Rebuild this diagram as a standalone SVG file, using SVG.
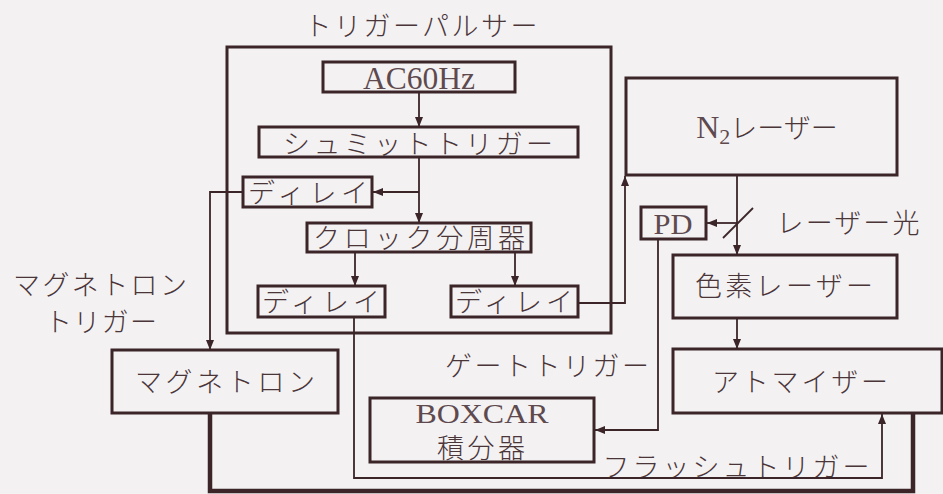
<svg xmlns="http://www.w3.org/2000/svg" width="943" height="494" viewBox="0 0 943 494">
<defs>
<style>
.bg{fill:#f3f1f2}
.box{fill:none;stroke:#3b2529;stroke-width:3}
.ln{fill:none;stroke:#3b2529;stroke-width:1.8}
.thick{fill:none;stroke:#3b2529;stroke-width:4.5}
text{font-family:"Liberation Serif","Noto Sans CJK JP",serif;font-weight:300;fill:#4a3539;text-anchor:middle}
.jp{font-size:27px}
.lat{font-family:"Liberation Serif",serif;font-weight:400;fill:#5e4a4e}
</style>
<marker id="ah" viewBox="0 0 10 8" refX="10" refY="4" markerWidth="10" markerHeight="8" markerUnits="userSpaceOnUse" orient="auto">
<path d="M0,0 L10,4 L0,8 z" fill="#3b2529"/>
</marker>
</defs>
<rect class="bg" x="0" y="0" width="943" height="494"/>

<g id="pulser">
<rect class="box" x="227" y="47" width="384" height="286"/>
<text class="jp" x="421" y="36" textLength="233" lengthAdjust="spacing">トリガーパルサー</text>
</g>
<g id="ac60">
<rect class="box" x="323" y="62" width="192" height="30"/>
<text class="lat" x="419" y="89" font-size="32px" textLength="112" lengthAdjust="spacingAndGlyphs">AC60Hz</text>
</g>
<g id="schmitt">
<rect class="box" x="259" y="127" width="319" height="30"/>
<text class="jp" x="418" y="154" textLength="270" lengthAdjust="spacing">シュミットトリガー</text>
</g>
<g id="delay1">
<rect class="box" x="243" y="177" width="129" height="30"/>
<text class="jp" x="308" y="203" textLength="120" lengthAdjust="spacing">ディレイ</text>
</g>
<g id="clock">
<rect class="box" x="307" y="223" width="224" height="29"/>
<text class="jp" x="419" y="248" textLength="212" lengthAdjust="spacing">クロック分周器</text>
</g>
<g id="delay2">
<rect class="box" x="258" y="286" width="127" height="31"/>
<text class="jp" x="321" y="312" textLength="118" lengthAdjust="spacing">ディレイ</text>
</g>
<g id="delay3">
<rect class="box" x="451" y="286" width="127" height="31"/>
<text class="jp" x="514" y="312" textLength="118" lengthAdjust="spacing">ディレイ</text>
</g>
<g id="n2laser">
<rect class="box" x="626" y="78" width="271" height="97"/>
<text x="767" y="138" class="jp"><tspan class="lat" font-size="32px">N</tspan><tspan class="lat" font-size="22px" dy="6">2</tspan><tspan dy="-6" font-size="27px">レーザー</tspan></text>
</g>
<g id="pd">
<rect class="box" x="641" y="207" width="65" height="32"/>
<text class="lat" x="673" y="234" font-size="30px" textLength="39" lengthAdjust="spacingAndGlyphs">PD</text>
</g>
<g id="laserlight">
<text class="jp" x="848" y="233" textLength="143" lengthAdjust="spacing">レーザー光</text>
</g>
<g id="dyelaser">
<rect class="box" x="673" y="255" width="224" height="63"/>
<text class="jp" x="784" y="296" textLength="178" lengthAdjust="spacing">色素レーザー</text>
</g>
<g id="atomizer">
<rect class="box" x="673" y="349" width="269" height="64"/>
<text class="jp" x="800" y="392" textLength="176" lengthAdjust="spacing">アトマイザー</text>
</g>
<g id="magnetron">
<rect class="box" x="112" y="350" width="226" height="63"/>
<text class="jp" x="225" y="392" textLength="180" lengthAdjust="spacing">マグネトロン</text>
</g>
<g id="magtrigger-label">
<text class="jp" x="100" y="295" textLength="174" lengthAdjust="spacing">マグネトロン</text>
<text class="jp" x="101" y="332" textLength="112" lengthAdjust="spacing">トリガー</text>
</g>
<g id="boxcar">
<rect class="box" x="370" y="398" width="224" height="64"/>
<text class="lat" x="482" y="423" font-size="28px" textLength="133" lengthAdjust="spacingAndGlyphs">BOXCAR</text>
<text class="jp" x="481" y="458" textLength="88" lengthAdjust="spacing">積分器</text>
</g>
<g id="gatetrigger-label">
<text class="jp" x="547" y="376" textLength="204" lengthAdjust="spacing">ゲートトリガー</text>
</g>
<g id="flashtrigger-label">
<text class="jp" x="736" y="477" textLength="267" lengthAdjust="spacing">フラッシュトリガー</text>
</g>

<g id="connectors">
<path class="ln" d="M419,92 V127" marker-end="url(#ah)"/>
<path class="ln" d="M419,157 V223" marker-end="url(#ah)"/>
<path class="ln" d="M419,192 H373" marker-end="url(#ah)"/>
<path class="ln" d="M243,192 H210 V350" marker-end="url(#ah)"/>
<path class="ln" d="M355,252 V286" marker-end="url(#ah)"/>
<path class="ln" d="M515,252 V286" marker-end="url(#ah)"/>
<path class="ln" d="M578,303 H625 V176" marker-end="url(#ah)"/>
<path class="ln" d="M737,175 V255" marker-end="url(#ah)"/>
<path class="ln" d="M723,238 L753,208"/>
<path class="ln" d="M737,223 H707" marker-end="url(#ah)"/>
<path class="ln" d="M658,239 V430 H595" marker-end="url(#ah)"/>
<path class="ln" d="M737,318 V349" marker-end="url(#ah)"/>
<path class="ln" d="M354,317 V478 H882 V414" marker-end="url(#ah)"/>
<path class="thick" d="M210,413 V491 H913 V413"/>
</g>
</svg>
